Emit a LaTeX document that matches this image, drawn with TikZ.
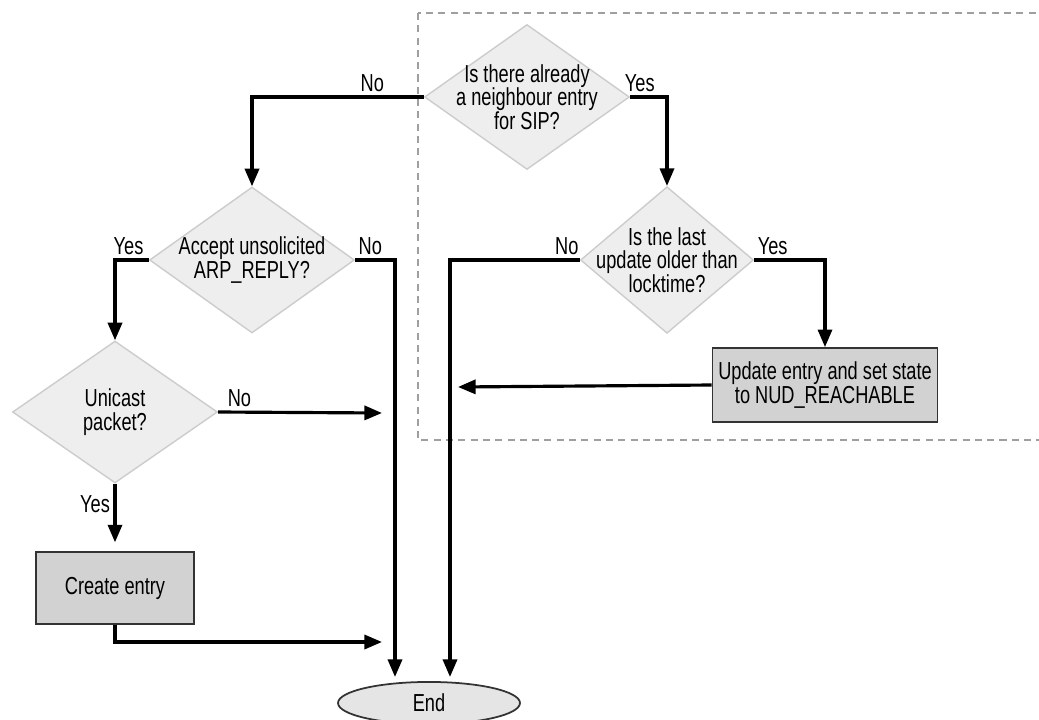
\documentclass[tikz,border=0pt]{standalone}
\usepackage{fontspec}
\setmainfont{Liberation Sans}[FakeStretch=0.74]
\usetikzlibrary{arrows.meta, shapes.geometric}

\tikzset{
  flow/.style={line width=1.8pt, -{Triangle[length=10pt,width=8pt]}},
  decision/.style={diamond, draw=gray!40, fill=gray!13, line width=0.8pt, inner sep=-6pt, align=center},
  action/.style={rectangle, draw=black!80, fill=gray!35, line width=1pt, align=center},
  terminal/.style={ellipse, draw=black!80, fill=gray!20, line width=1pt},
  lbl/.style={inner sep=2pt}
}

\begin{document}
\begin{tikzpicture}[x=0.02cm, y=-0.02cm, font=\fontsize{14}{13.5}\selectfont]
  \useasboundingbox (0,0) rectangle (1039,720);
  % part done in the neighbour code
  \draw[gray!75, line width=1.4pt, dash pattern=on 4pt off 3pt] (418,13) rectangle (1050,440);

  % questions
  \node[decision, aspect=1.41, minimum width=4.1cm, minimum height=2.9cm] (known) at (527,97) {Is there already\\a neighbour entry\\for SIP?};
  \node[decision, aspect=1.40, minimum width=4.1cm, minimum height=2.92cm] (accept) at (252,260) {Accept unsolicited\\ARP\_REPLY?};
  \node[decision, aspect=1.18, minimum width=3.46cm, minimum height=2.92cm] (old) at (667,260) {Is the last\\update older than\\locktime?};
  \node[decision, aspect=1.44, minimum width=4.1cm, minimum height=2.84cm] (unicast) at (115,412) {Unicast\\packet?};

  % actions
  \node[action, minimum width=3.16cm, minimum height=1.44cm] (create) at (115,588) {Create entry};
  \node[action, minimum width=4.4cm, minimum height=1.48cm] (update) at (825,385) {Update entry and set state\\to NUD\_REACHABLE};
  \node[terminal, minimum width=3.64cm, minimum height=0.8cm] (end) at (429,703) {End};

  % loose ends
  \coordinate (inA) at (395,677);
  \coordinate (inB) at (450,677);
  \coordinate (outA) at (382,413);
  \coordinate (outB) at (382,642);
  \coordinate (outC) at (458,387);

  \draw[flow] (known.west) -| node[lbl, above, pos=0.15]{No} (accept.north);
  \draw[flow] (known.east) -| node[lbl, above, pos=0.13]{Yes} (old.north);
  \draw[flow] (accept.west) -| node[lbl, above, pos=0.3]{Yes} (unicast.north);
  \draw[flow] (accept.east) -| node[lbl, above, pos=0.19]{No} (inA);
  \draw[flow] (old.west) -| node[lbl, above, pos=0.05]{No} (inB);
  \draw[flow] (old.east) -| node[lbl, above, pos=0.13]{Yes} (update.north);
  \draw[flow] (update.west) -- (outC);
  \draw[flow] (unicast.east) -- node[lbl, above, pos=0.13]{No} (outA);
  \draw[flow, shorten >=5pt] (unicast.south) -- node[lbl, left, pos=0.3]{Yes} (create.north);
  \draw[flow] (create.south) |- (outB);
\end{tikzpicture}
\end{document}
